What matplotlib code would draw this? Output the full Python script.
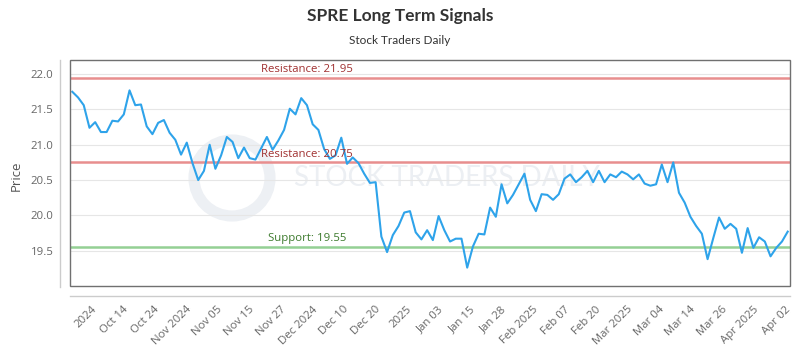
import matplotlib
matplotlib.use("Agg")
import matplotlib.pyplot as plt
import numpy as np
from matplotlib.patches import Rectangle, Ellipse

prices = [21.75, 21.67, 21.56, 21.24, 21.32, 21.18, 21.18, 21.34, 21.33, 21.43,
          21.77, 21.56, 21.57, 21.26, 21.15, 21.31, 21.35, 21.17, 21.07, 20.86,
          21.03, 20.74, 20.50, 20.63, 21.00, 20.66, 20.85, 21.11, 21.04, 20.81,
          20.96, 20.81, 20.79, 20.95, 21.11, 20.93, 21.06, 21.21, 21.51, 21.43,
          21.66, 21.56, 21.29, 21.21, 20.94, 20.80, 20.85, 21.10, 20.73, 20.82,
          20.74, 20.59, 20.46, 20.47, 19.70, 19.48, 19.72, 19.85, 20.04, 20.06,
          19.76, 19.66, 19.79, 19.65, 19.99, 19.79, 19.63, 19.67, 19.67, 19.26,
          19.56, 19.74, 19.73, 20.11, 19.98, 20.44, 20.17, 20.29, 20.44, 20.59,
          20.22, 20.06, 20.30, 20.29, 20.22, 20.30, 20.52, 20.58, 20.47, 20.54,
          20.63, 20.47, 20.63, 20.47, 20.58, 20.54, 20.62, 20.58, 20.51, 20.58,
          20.45, 20.42, 20.44, 20.72, 20.47, 20.75, 20.32, 20.18, 19.98, 19.85,
          19.74, 19.38, 19.68, 19.97, 19.81, 19.88, 19.81, 19.47, 19.82, 19.54,
          19.69, 19.63, 19.42, 19.54, 19.63, 19.77]

tick_labels = ["2024", "Oct 14", "Oct 24", "Nov 2024", "Nov 05", "Nov 15", "Nov 27",
               "Dec 2024", "Dec 10", "Dec 20", "2025", "Jan 03", "Jan 15", "Jan 28",
               "Feb 2025", "Feb 07", "Feb 20", "Mar 2025", "Mar 04", "Mar 14",
               "Mar 26", "Apr 2025", "Apr 02"]

resistance_high = 21.95
resistance_low = 20.75
support = 19.55

title = "SPRE Long Term Signals"
subtitle = "Stock Traders Daily"

plt.rcParams['font.family'] = ['Open Sans', 'DejaVu Sans']

W, H = 800, 350
L, R, T, B = 70.3, 790, 60, 286
fig = plt.figure(figsize=(8, 3.5), dpi=100)
ax = fig.add_axes([L / W, 1 - B / H, (R - L) / W, (B - T) / H])

x = np.arange(len(prices))
ax.set_xlim(-0.35, len(prices) - 1 + 0.4)
ax.set_ylim(19.0, 22.2)

# grid
ax.set_yticks([19.5, 20.0, 20.5, 21.0, 21.5, 22.0])
ax.yaxis.grid(True, color='#e6e6e6', lw=0.8)
ax.set_axisbelow(True)

# watermark (faint logo ring + text)
cx, cy, r = 232, 178, 38
ax.add_patch(Ellipse(((cx - L) / (R - L), (B - cy) / (B - T)),
                     2 * r / (R - L), 2 * r / (B - T), transform=ax.transAxes,
                     fill=False, ec='#edf0f4', lw=8, zorder=0.5))
ax.text((447 - L) / (R - L), (B - 178) / (B - T), "STOCK TRADERS DAILY",
        transform=ax.transAxes, ha='center', va='center', fontsize=20,
        color='#eceff3', family=['Lato', 'DejaVu Sans'], zorder=0.5)

# S/R lines
ax.axhline(resistance_high, color='#e88e8e', lw=1.8, zorder=2)
ax.axhline(resistance_low, color='#e88e8e', lw=1.8, zorder=2)
ax.axhline(support, color='#94d094', lw=1.8, zorder=2)
ytr = ax.get_yaxis_transform()
ax.text((261 - L) / (R - L), resistance_high + 0.04, f"Resistance: {resistance_high:.2f}",
        transform=ytr, color='#a03030', fontsize=8.2, va='bottom', ha='left', zorder=4)
ax.text((261 - L) / (R - L), resistance_low + 0.04, f"Resistance: {resistance_low:.2f}",
        transform=ytr, color='#a03030', fontsize=8.2, va='bottom', ha='left', zorder=4)
ax.text((268 - L) / (R - L), support + 0.04, f"Support: {support:.2f}",
        transform=ytr, color='#3c7a2c', fontsize=8.2, va='bottom', ha='left', zorder=4)

# price line
ax.plot(x, prices, color='#2ea3ea', lw=1.5, zorder=3)

# ticks
ax.tick_params(axis='y', length=0, labelsize=8.2, labelcolor='#666666', pad=12)
tick_pos = np.linspace(3.27, 124.5, len(tick_labels))
ax.set_xticks(tick_pos)
ax.set_xticklabels(tick_labels, rotation=45, ha='right', rotation_mode='anchor',
                   fontsize=8.2, color='#666666')
ax.tick_params(axis='x', length=0, pad=13)

for s in ax.spines.values():
    s.set_visible(False)

# plot border
ax.add_patch(Rectangle((0, 0), 1, 1, transform=ax.transAxes, fill=False,
                       ec='#707070', lw=1.0, zorder=5, clip_on=False))

# offset axis lines
fig.add_artist(plt.Line2D([60 / W, 60 / W], [1 - 60 / H, 1 - 287 / H],
                          color='#cccccc', lw=1.0))
fig.add_artist(plt.Line2D([70 / W, 790 / W], [1 - 296 / H, 1 - 296 / H],
                          color='#cccccc', lw=1.0))

fig.text(16 / W, 1 - 176 / H, "Price", rotation=90, ha='center', va='center',
         fontsize=9.5, color='#555555')

fig.text(0.5, 1 - 16 / H, title, ha='center', va='center', fontsize=12.5,
         fontweight='bold', color='#333333', family=['Lato', 'DejaVu Sans'])
fig.text(0.5, 1 - 40 / H, subtitle, ha='center', va='center', fontsize=8.5,
         color='#333333', family=['Lato', 'DejaVu Sans'])

fig.savefig("out.png", dpi=100)
